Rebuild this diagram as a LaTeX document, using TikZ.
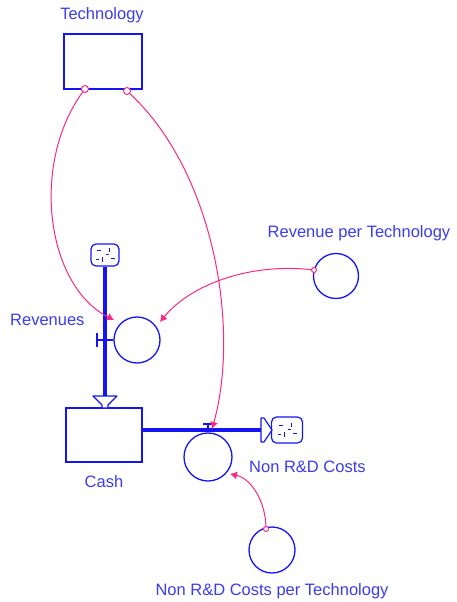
\documentclass[tikz,border=0pt]{standalone}
\usepackage{fontspec}
\setmainfont{Liberation Sans}
\usetikzlibrary{arrows.meta}
\definecolor{sfblue}{RGB}{20,20,245}
\definecolor{sftext}{RGB}{60,60,235}
\definecolor{sfpink}{RGB}{250,40,130}
\tikzset{
  stock/.style={draw=sfblue, line width=1.6pt, fill=white, rectangle, inner sep=0pt},
  conv/.style={draw=sfblue, line width=1.3pt, fill=white, circle, inner sep=0pt, minimum size=46pt},
  cloudbox/.style={draw=sfblue, line width=1.2pt, fill=white, rounded corners=5pt, inner sep=0pt},
  pipe/.style={draw=sfblue, line width=3.6pt},
  link/.style={draw=sfpink, line width=1pt, -{Latex[length=7pt,width=8pt]}},
  port/.style={draw=sfpink, line width=1pt, fill=white, circle, inner sep=0pt, minimum size=7pt},
  lbl/.style={text=sftext, font=\fontsize{16.5}{19}\selectfont, inner sep=0pt}
}
\newcommand{\cloudmarks}[1]{%
  \draw[sfblue, line width=1pt] ([shift={(-8,-5)}]#1) -- ++(4,0) ([shift={(4,-7)}]#1) -- ++(0,4)
    ([shift={(-3,2)}]#1) -- ++(0,5) ([shift={(6,3)}]#1) -- ++(4,0) ([shift={(1,-1)}]#1) -- ++(3,0)
    ([shift={(-9,4)}]#1) -- ++(3,0);}
\begin{document}
\begin{tikzpicture}[x=1pt,y=-1pt]
\useasboundingbox (0,0) rectangle (456,602);

% stocks
\node[stock, minimum width=78pt, minimum height=55pt] (tech) at (103,61.5) {};
\node[lbl] (techl) at (102,15) {Technology};
\node[stock, minimum width=76pt, minimum height=54pt] (cash) at (104,435) {};
\node[lbl] (cashl) at (104,482) {Cash};

% clouds
\node[cloudbox, minimum width=28pt, minimum height=22pt] (cloudin) at (105,255) {};
\cloudmarks{cloudin.center}
\node[cloudbox, minimum width=31pt, minimum height=26pt] (cloudout) at (287,430) {};
\cloudmarks{cloudout.center}

% inflow pipe into Cash
\coordinate (inhead) at (105,396);
\draw[pipe] (cloudin.south) -- (inhead);
\draw[sfblue, line width=1.2pt, fill=white, line join=round]
  (93,396) -- (117,396) -- (108,405) -- (108,408) -- (102,408) -- (102,405) -- cycle;

% outflow pipe from Cash
\coordinate (outhead) at (261,430);
\draw[pipe] (cash.east |- outhead) -- (outhead);
\draw[sfblue, line width=1.2pt, fill=white, line join=round]
  (261,418) -- (264,418) -- (272,430) -- (264,442) -- (261,442) -- cycle;

% rates
\node[conv] (revrate) at (137,340) {};
\draw[sfblue, line width=1.3pt] (revrate.west) -- (97,340) (97,333) -- (97,347);
\node[lbl, anchor=west] (revl) at (10,320) {Revenues};

\node[conv, minimum size=48pt] (costrate) at (208,457) {};
\draw[sfblue, line width=1.3pt] (costrate.north) -- (208,424) (203,424) -- (213,424);
\node[lbl, anchor=west] (costl) at (249,467) {Non R\&D Costs};

% auxiliaries
\node[conv, minimum size=45pt] (rpt) at (336,276) {};
\node[lbl] (rptl) at (359,233) {Revenue per Technology};
\node[conv, minimum size=46pt] (cpt) at (272,550) {};
\node[lbl] (cptl) at (272,591) {Non R\&D Costs per Technology};

% information links
\coordinate (t1) at (85,89);
\coordinate (t2) at (127,91);
\coordinate (r1) at (114,320);
\coordinate (r2) at (160,322);
\coordinate (c1) at (212,429);
\coordinate (c2) at (230,474);
\coordinate (p1) at (314,270);
\coordinate (p2) at (266,529);

\draw[link] (t1) .. controls (30,160) and (45,285) .. (r1);
\draw[link] (t2) .. controls (215,170) and (240,330) .. (c1);
\draw[link] (p1) .. controls (250,262) and (190,285) .. (r2);
\draw[link] (p2) .. controls (266,500) and (250,478) .. (c2);

\node[port] at (t1) {};
\node[port] at (t2) {};
\node[port, minimum size=5pt] at (p1) {};
\node[port, minimum size=5pt] at (p2) {};
\end{tikzpicture}
\end{document}
